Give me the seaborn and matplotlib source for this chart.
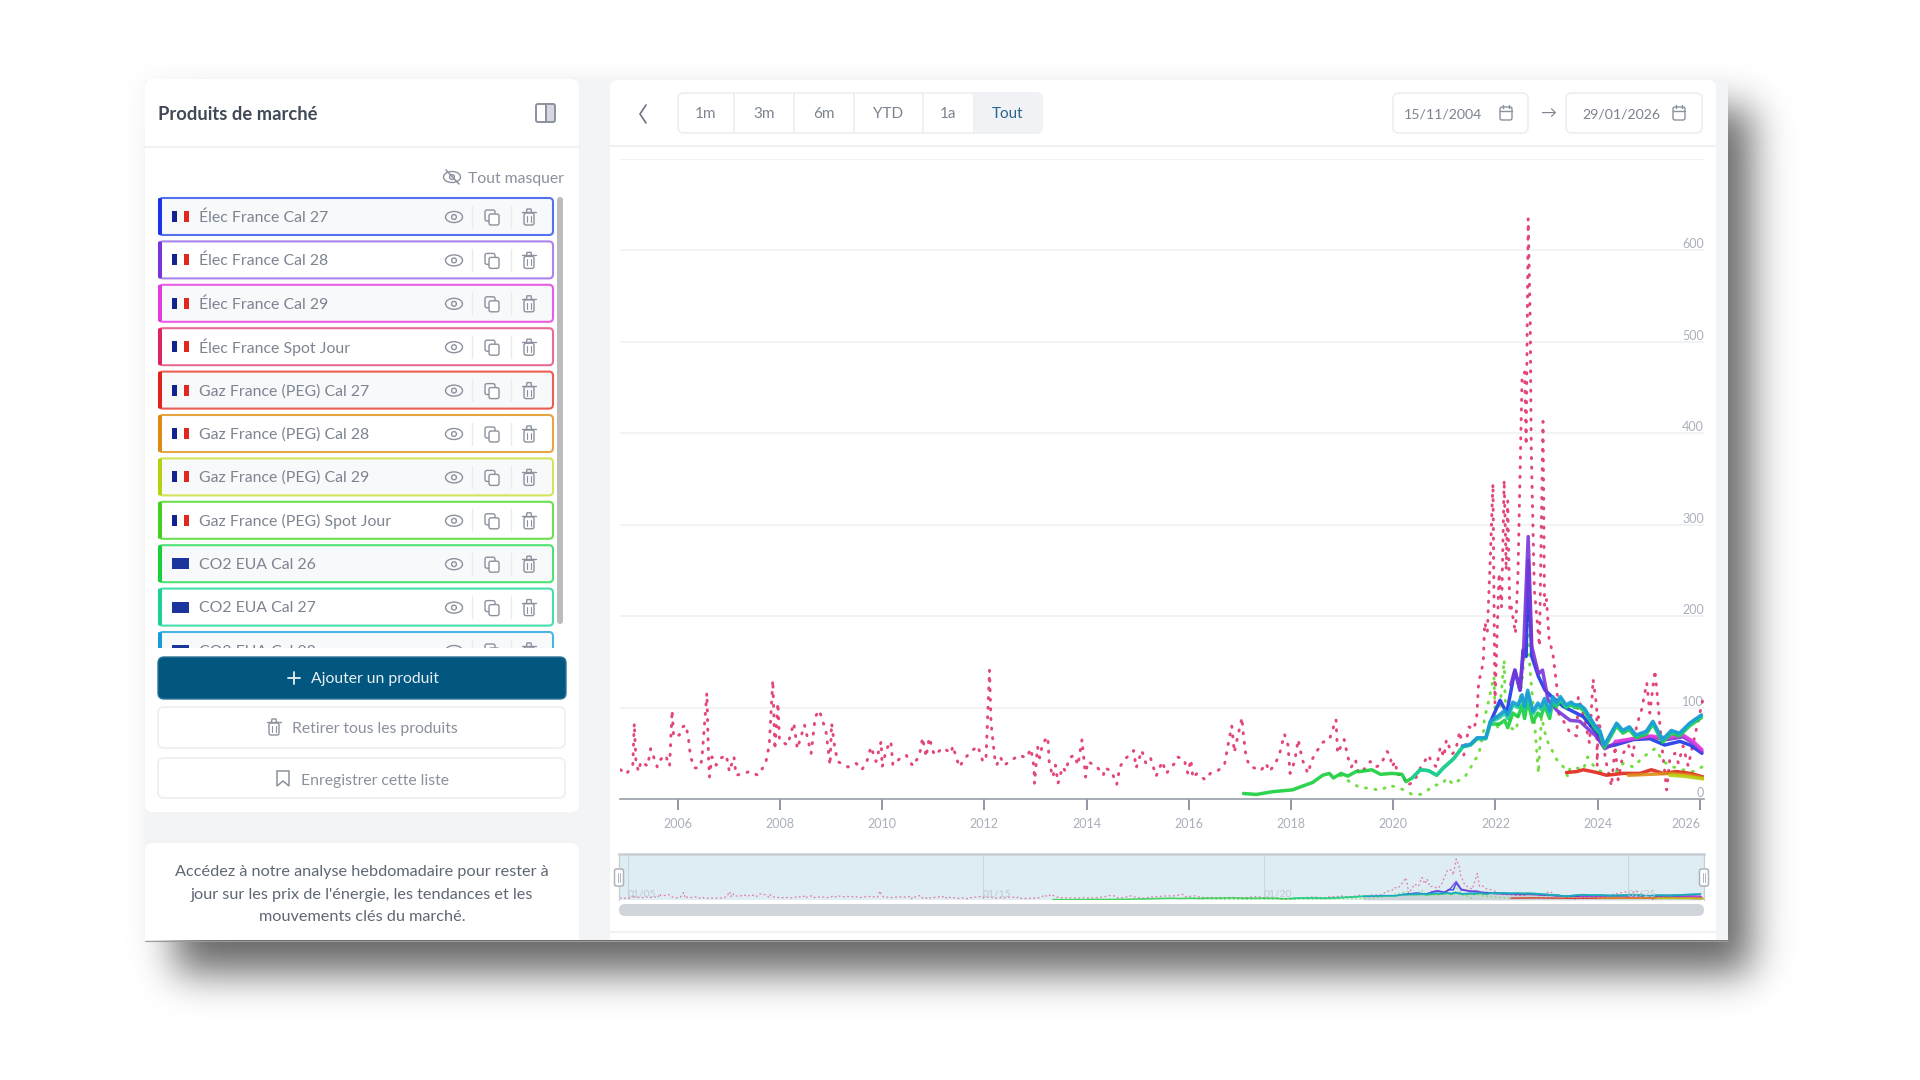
# market products dashboard: price history chart with its side panel
import numpy as np
import pandas as pd
import seaborn as sns
import matplotlib.pyplot as plt
from matplotlib.patches import FancyBboxPatch, Rectangle, Ellipse, Circle, Polygon

# --- data (decimal years, EUR) ---
spot_t = [2004.88, 2004.99, 2005.12, 2005.15, 2005.17, 2005.18, 2005.23, 2005.28, 2005.41, 2005.47, 2005.60, 2005.66,
          2005.76, 2005.84, 2005.89, 2005.92, 2006.03, 2006.10, 2006.16, 2006.21, 2006.25, 2006.33, 2006.41, 2006.47,
          2006.57, 2006.60, 2006.62, 2006.67, 2006.75, 2006.85, 2006.95, 2007.01, 2007.10, 2007.14, 2007.30, 2007.40,
          2007.57, 2007.72, 2007.79, 2007.86, 2007.90, 2007.96, 2007.99, 2008.15, 2008.27, 2008.34, 2008.48, 2008.61,
          2008.69, 2008.77, 2008.90, 2008.98, 2009.01, 2009.07, 2009.13, 2009.33, 2009.49, 2009.60, 2009.69, 2009.78,
          2009.88, 2009.98, 2010.00, 2010.08, 2010.17, 2010.21, 2010.34, 2010.47, 2010.60, 2010.73, 2010.79, 2010.86,
          2010.92, 2011.02, 2011.19, 2011.35, 2011.38, 2011.51, 2011.61, 2011.74, 2011.87, 2011.97, 2012.03, 2012.10,
          2012.13, 2012.20, 2012.24, 2012.31, 2012.39, 2012.52, 2012.68, 2012.82, 2012.91, 2012.97, 2012.98, 2013.04,
          2013.08, 2013.14, 2013.24, 2013.27, 2013.34, 2013.39, 2013.44, 2013.53, 2013.59, 2013.66, 2013.76, 2013.83,
          2013.91, 2013.98, 2014.02, 2014.19, 2014.33, 2014.35, 2014.48, 2014.59, 2014.65, 2014.74, 2014.92, 2014.97,
          2015.08, 2015.16, 2015.25, 2015.36, 2015.48, 2015.56, 2015.72, 2015.78, 2015.91, 2015.98, 2016.04, 2016.08,
          2016.16, 2016.32, 2016.42, 2016.57, 2016.70, 2016.76, 2016.84, 2016.89, 2016.94, 2017.04, 2017.06, 2017.12,
          2017.19, 2017.32, 2017.41, 2017.51, 2017.58, 2017.71, 2017.77, 2017.87, 2017.94, 2017.98, 2018.07, 2018.14,
          2018.22, 2018.33, 2018.41, 2018.49, 2018.62, 2018.75, 2018.88, 2018.91, 2019.04, 2019.11, 2019.18, 2019.26,
          2019.32, 2019.42, 2019.55, 2019.65, 2019.75, 2019.88, 2019.94, 2019.97, 2020.04, 2020.08, 2020.17, 2020.27,
          2020.41, 2020.53, 2020.69, 2020.76, 2020.85, 2020.92, 2020.99, 2021.04, 2021.15, 2021.22, 2021.30, 2021.38,
          2021.48, 2021.57, 2021.63, 2021.67, 2021.76, 2021.79, 2021.84, 2021.90, 2021.95, 2021.99, 2022.07, 2022.12,
          2022.17, 2022.21, 2022.24, 2022.28, 2022.31, 2022.39, 2022.44, 2022.52, 2022.57, 2022.60, 2022.64, 2022.68,
          2022.70, 2022.76, 2022.86, 2022.93, 2022.96, 2023.00, 2023.05, 2023.07, 2023.13, 2023.20, 2023.23, 2023.39,
          2023.46, 2023.59, 2023.62, 2023.75, 2023.84, 2023.91, 2023.98, 2023.99, 2024.01, 2024.17, 2024.27, 2024.34,
          2024.40, 2024.50, 2024.60, 2024.69, 2024.76, 2024.86, 2024.96, 2025.02, 2025.12, 2025.19, 2025.25, 2025.35,
          2025.41, 2025.51, 2025.58, 2025.67, 2025.77, 2025.87, 2026.00, 2026.07]
spot_v = [32, 27, 37, 83, 57, 43, 30, 41, 36, 55, 35, 43,
          48, 36, 97, 68, 70, 79, 81, 66, 46, 34, 34, 42,
          116, 50, 24, 46, 37, 45, 48, 30, 46, 26, 28, 30,
          26, 39, 59, 130, 54, 105, 64, 59, 83, 55, 81, 50,
          90, 97, 74, 37, 83, 57, 41, 35, 39, 32, 39, 57,
          41, 63, 35, 54, 63, 37, 44, 48, 36, 48, 67, 46,
          67, 48, 56, 50, 58, 35, 44, 52, 58, 41, 43, 141,
          83, 46, 37, 46, 37, 42, 48, 45, 55, 35, 17, 57,
          45, 61, 68, 39, 24, 37, 17, 35, 30, 45, 48, 37,
          65, 24, 41, 36, 26, 34, 31, 16, 35, 43, 53, 34,
          53, 39, 45, 25, 41, 28, 39, 46, 43, 28, 43, 23,
          28, 21, 28, 31, 38, 57, 80, 51, 64, 89, 74, 46,
          36, 33, 31, 39, 30, 41, 48, 71, 59, 28, 41, 65,
          43, 28, 43, 51, 62, 65, 87, 50, 65, 46, 35, 43,
          28, 32, 41, 35, 37, 52, 48, 35, 41, 26, 28, 15,
          19, 34, 48, 39, 35, 57, 46, 65, 49, 53, 74, 48,
          79, 76, 87, 127, 149, 193, 182, 265, 345, 105, 247, 210,
          349, 250, 326, 205, 210, 181, 247, 460, 467, 387, 635, 520,
          383, 229, 167, 413, 210, 218, 174, 171, 156, 123, 94, 80,
          72, 69, 112, 85, 61, 131, 101, 36, 90, 39, 14, 58,
          21, 50, 59, 47, 80, 98, 127, 94, 141, 98, 61, 10,
          43, 50, 39, 58, 36, 61, 94, 112]

gas_spot_t = [2018.96, 2019.09, 2019.26, 2019.39, 2019.55, 2019.68, 2019.78, 2019.91, 2020.07, 2020.20, 2020.37, 2020.53,
              2020.66, 2020.79, 2020.95, 2021.05, 2021.17, 2021.30, 2021.41, 2021.51, 2021.60, 2021.67, 2021.77, 2021.78,
              2021.97, 2021.99, 2022.05, 2022.17, 2022.19, 2022.32, 2022.41, 2022.51, 2022.64, 2022.67, 2022.74, 2022.84,
              2022.90, 2023.00, 2023.20, 2023.33, 2023.42, 2023.46, 2023.59, 2023.72, 2023.80, 2023.91, 2024.11, 2024.31,
              2024.50, 2024.70, 2024.89, 2025.12, 2025.28, 2025.48, 2025.67, 2025.87, 2026.04, 2026.07]
gas_spot_v = [26, 21, 15, 12, 12, 10, 10, 15, 13, 10, 5, 5,
              9, 15, 16, 23, 16, 21, 25, 34, 43, 48, 75, 86,
              134, 101, 75, 152, 108, 77, 75, 123, 203, 145, 101, 28,
              90, 65, 43, 35, 24, 34, 34, 32, 46, 37, 28, 26,
              39, 35, 46, 55, 41, 35, 32, 30, 35, 39]

co2_t = [2017.07, 2017.32, 2017.64, 2018.03, 2018.22, 2018.42, 2018.62, 2018.75, 2018.83, 2018.98, 2019.11, 2019.27,
         2019.35, 2019.58, 2019.75, 2019.97, 2020.17, 2020.25, 2020.37, 2020.53, 2020.69, 2020.85, 2020.98, 2021.18,
         2021.36, 2021.51, 2021.64, 2021.81, 2021.90, 2022.08, 2022.18, 2022.24, 2022.34, 2022.44, 2022.52, 2022.57,
         2022.63, 2022.73, 2022.83, 2022.89, 2022.96, 2023.06, 2023.12, 2023.19, 2023.27, 2023.38, 2023.48, 2023.55,
         2023.65, 2023.74, 2023.84, 2023.94, 2024.04, 2024.13, 2024.26, 2024.37, 2024.49, 2024.62, 2024.75, 2024.95,
         2025.08, 2025.27, 2025.44, 2025.60, 2025.80, 2026.03]
co2_cal26_v = [6, 5, 8, 10, 14, 18, 26, 28, 23, 28, 25, 30,
               30, 32, 27, 28, 27, 19, 23, 32, 31, 26, 34, 44,
               57, 59, 66, 66, 82, 82, 86, 78, 94, 90, 102, 88,
               108, 84, 94, 90, 102, 88, 108, 101, 108, 100, 103, 100,
               100, 96, 87, 78, 72, 56, 69, 80, 72, 76, 67, 71,
               82, 62, 72, 69, 80, 89]
co2_cal27_t = co2_t[18:]
co2_cal27_v = [23, 32, 31, 26, 34, 44,
               57, 59, 66, 66, 84, 89, 94, 88, 103, 100, 111, 98,
               116, 93, 102, 98, 107, 93, 110, 103, 110, 101, 105, 102,
               102, 98, 89, 80, 74, 58, 71, 82, 74, 78, 69, 73,
               84, 64, 74, 71, 82, 91]
co2_cal28_t = co2_t[24:]
co2_cal28_v = [58, 60, 67, 67, 85, 92, 97, 92, 106, 103, 114, 101,
               119, 96, 105, 101, 110, 96, 112, 105, 112, 103, 106, 103,
               103, 99, 90, 81, 75, 59, 72, 83, 75, 79, 70, 74,
               85, 65, 75, 72, 83, 92]

elec27_t = [2021.90, 2022.09, 2022.22, 2022.38, 2022.48, 2022.54, 2022.60, 2022.64, 2022.71, 2022.84, 2022.97, 2023.10,
            2023.33, 2023.72, 2023.98, 2024.14, 2024.34, 2024.70, 2025.02, 2025.31, 2025.61, 2025.81, 2026.04]
elec27_v = [84, 108, 94, 141, 119, 163, 156, 261, 156, 134, 119, 112,
            101, 90, 72, 57, 59, 65, 66, 59, 63, 59, 50]
elec28_t = [2022.30, 2022.38, 2022.48, 2022.55, 2022.64, 2022.71, 2022.84, 2022.92, 2023.03, 2023.20, 2023.46, 2023.65,
            2023.98, 2024.14, 2024.34, 2024.70, 2025.02, 2025.35, 2025.67, 2025.87, 2026.04]
elec28_v = [125, 141, 119, 163, 287, 167, 137, 141, 108, 97, 86, 85,
            68, 55, 61, 66, 68, 65, 68, 61, 52]
elec29_t = [2024.34, 2024.70, 2025.02, 2025.35, 2025.67, 2025.87, 2026.04]
elec29_v = [63, 66, 69, 67, 70, 63, 54]

gas27_t = [2023.39, 2023.59, 2023.72, 2023.98, 2024.17, 2024.50, 2024.83, 2025.05, 2025.28, 2025.54, 2025.81, 2026.07]
gas27_v = [29, 30, 32, 29, 26, 28, 28, 32, 28, 30, 28, 24]
gas28_t = [2024.60, 2025.02, 2025.41, 2025.81, 2026.07]
gas28_v = [26, 27, 28, 26, 23]
gas29_t = [2025.41, 2025.67, 2026.07]
gas29_v = [26, 25, 22]

year_ticks = [2006, 2008, 2010, 2012, 2014, 2016, 2018, 2020, 2022, 2024, 2026]
price_ticks = [0, 100, 200, 300, 400, 500, 600, 700]
nav_ticks = [2005, 2015, 2020, 2025]
nav_tick_labels = ['01/05', '01/15', '01/20', '01/25']
# the overview strip is not linear in time
nav_anchor_t = [2004.87, 2005, 2015, 2017.07, 2020, 2025, 2026.08]
nav_anchor_pos = [619, 628, 983, 1053, 1264, 1628, 1704]

products = ['Élec France Cal 27', 'Élec France Cal 28', 'Élec France Cal 29', 'Élec France Spot Jour',
            'Gaz France (PEG) Cal 27', 'Gaz France (PEG) Cal 28', 'Gaz France (PEG) Cal 29',
            'Gaz France (PEG) Spot Jour', 'CO2 EUA Cal 26', 'CO2 EUA Cal 27', 'CO2 EUA Cal 28']
row_colors = ['#1a36e8', '#7a35d8', '#e23de0', '#de2560', '#e0241a', '#dd8a16', '#b8d010',
              '#45d020', '#18cf3c', '#1fcf9a', '#1a9cd8']
row_borders = ['#5570f0', '#ab85ee', '#e95de4', '#ea6c92', '#ea5f52', '#e5a542', '#d3e35c',
               '#6bdf4e', '#4fe274', '#45dfae', '#4cb4e2']
periods = ['1m', '3m', '6m', 'YTD', '1a', 'Tout']
period_edges = [678, 734, 794, 854, 923, 974, 1042]

sns.set_theme(style='white')
plt.rcParams['font.family'] = ['Lato', 'DejaVu Sans']

TXT = '#7d8491'
ICON = '#8b919d'
TICK = '#a9afbb'

fig = plt.figure(figsize=(19.2, 10.8), dpi=100, facecolor='white')
ui = fig.add_axes([0, 0, 1, 1], zorder=1)


def box(x0, y0, x1, y1, fc='white', ec='none', lw=1, r=6, z=2, ax=None):
    p = FancyBboxPatch((x0, y0), x1 - x0, y1 - y0, boxstyle='round,pad=0,rounding_size={}'.format(r),
                       fc=fc, ec=ec, lw=lw, zorder=z)
    (ax or ui).add_patch(p)
    return p


def rect(x0, y0, x1, y1, fc, z=2):
    ui.add_patch(Rectangle((x0, y0), x1 - x0, y1 - y0, fc=fc, ec='none', zorder=z))


def label(x, y, s, size=11, color=TXT, ha='center', weight='normal', z=6):
    ui.text(x, y + 1.5, s, fontsize=size, color=color, ha=ha, va='center', fontweight=weight, zorder=z)


def eye(x, y, z=5):
    ui.add_patch(Ellipse((x, y), 17, 11, fc='none', ec=ICON, lw=1, zorder=z))
    ui.add_patch(Circle((x, y), 2.4, fc='none', ec=ICON, lw=1, zorder=z))


def copy_icon(x, y, z=5):
    box(x - 7, y - 7, x + 3, y + 4, fc='none', ec=ICON, r=2, z=z)
    box(x - 3, y - 3, x + 7, y + 8, fc='white', ec=ICON, r=2, z=z)


def trash(x, y, z=5):
    box(x - 5, y - 4, x + 5, y + 8, fc='none', ec=ICON, r=2, z=z)
    ui.plot([x - 7, x + 7], [y - 5, y - 5], color=ICON, lw=1, zorder=z)
    ui.plot([x - 2.5, x - 2, x + 2, x + 2.5], [y - 5, y - 8, y - 8, y - 5], color=ICON, lw=1, zorder=z)
    for dx in (-1.8, 1.8):
        ui.plot([x + dx, x + dx], [y - 1, y + 5], color=ICON, lw=0.8, zorder=z)


def calendar(x, y):
    box(x - 6, y - 6, x + 6, y + 7, fc='none', ec=ICON, r=2, z=5)
    ui.plot([x - 6, x + 6], [y - 2, y - 2], color=ICON, lw=1, zorder=5)
    for dx in (-3, 3):
        ui.plot([x + dx, x + dx], [y - 8, y - 5], color=ICON, lw=1, zorder=5)


# drop shadow behind the app window (blurred rectangle)
def blurred_edge(n, lo, hi, sigma):
    kx = np.arange(-3 * sigma, 3 * sigma + 1)
    kernel = np.exp(-kx ** 2 / (2.0 * sigma ** 2))
    step = ((np.arange(n) >= lo) & (np.arange(n) <= hi)).astype(float)
    return np.convolve(step, kernel / kernel.sum(), mode='same')


soft = np.outer(blurred_edge(1080, 108, 972, 20), blurred_edge(1920, 175, 1750, 20)) * 0.6
glow = np.outer(blurred_edge(1080, 78, 950, 14), blurred_edge(1920, 142, 1735, 14)) * 0.05
shadow = np.zeros((1080, 1920, 4))
shadow[..., 3] = np.maximum(soft, glow)
ui.imshow(shadow, extent=(0, 1920, 1080, 0), aspect='auto', zorder=0, interpolation='bilinear')
ui.set_xlim(0, 1920)
ui.set_ylim(1080, 0)
ui.axis('off')

# window and panels, the screenshot cuts them off at the bottom
rect(145, 80, 1728, 940, '#f3f4f6', z=1)
window = Rectangle((145, 80), 1583, 860, transform=ui.transData)
box(145, 79, 579, 812, r=8)
box(145, 843, 579, 960, r=8).set_clip_path(window)
box(610, 80, 1716, 960, r=8).set_clip_path(window)
ui.plot([145, 1728], [940.5, 940.5], color='#9a9a9a', lw=0.8, zorder=3)
ui.plot([145, 579], [147, 147], color='#f0f1f4', lw=1.5, zorder=3)
ui.plot([610, 1716], [146, 146], color='#f0f1f4', lw=1.5, zorder=3)
ui.plot([610, 1716], [932, 932], color='#eef0f3', lw=1.2, zorder=3)

# left panel header
label(158, 113, 'Produits de marché', size=13.2, color='#414957', ha='left', weight='bold')
box(536, 104, 555, 122, fc='none', ec=ICON, lw=1.4, r=2, z=4)
rect(546, 105, 554, 121, '#d5d8de', z=3)
ui.plot([546, 546], [104, 122], color=ICON, lw=1.4, zorder=4)
label(564, 177, 'Tout masquer', size=11.3, color='#8a909c', ha='right')
eye(452, 177)
ui.plot([446, 459], [170, 184], color=ICON, lw=1.1, zorder=5)

# product rows, the last one is cut by the list bottom
for i, name in enumerate(products):
    yc = 216.5 + 43.4 * i
    y0, y1 = yc - 18.5, yc + 18.5
    bg = '#f8f9fb' if i % 2 == 0 else 'white'
    box(159, y0, 553, y1, fc=bg, ec=row_borders[i], lw=1.5, r=4, z=3)
    box(158, y0, 162, y1, fc=row_colors[i], r=1.5, z=4)
    if name.startswith('CO2'):
        rect(172, yc - 5.5, 189, yc + 5.5, '#1c359c', z=5)
    else:
        rect(172, yc - 5.5, 177, yc + 5.5, '#12238f', z=5)
        rect(184, yc - 5.5, 189, yc + 5.5, '#e0281e', z=5)
    label(199, yc - 0.5, name, size=11.4, ha='left', z=5)
    eye(454, yc + 0.5)
    copy_icon(492, yc + 0.5)
    trash(529, yc + 0.5)
    ui.plot([472, 472], [yc - 11, yc + 11], color='#e9ebef', lw=1, zorder=5)
    ui.plot([511, 511], [yc - 11, yc + 11], color='#e9ebef', lw=1, zorder=5)
rect(150, 648, 575, 705, 'white', z=7)
box(557, 197, 563, 624, fc='#bcbcbc', r=3, z=5)

# action buttons
box(158, 657, 566, 699, fc='#01577f', ec='#2d7596', r=6, z=8)
label(375, 677.5, 'Ajouter un produit', size=11.3, color='#e9f0f4', z=9)
ui.plot([288, 300], [678, 678], color='#e9f0f4', lw=1.3, zorder=9)
ui.plot([294, 294], [672, 684], color='#e9f0f4', lw=1.3, zorder=9)
box(158, 707, 565, 748, ec='#eceef1', lw=1.2, r=6, z=8)
label(375, 728, 'Retirer tous les produits', size=11.3, color='#8a909c', z=9)
trash(274, 727, z=9)
box(158, 758, 565, 798, ec='#eceef1', lw=1.2, r=6, z=8)
label(375, 779, 'Enregistrer cette liste', size=11.3, color='#8a909c', z=9)
ui.add_patch(Polygon([(277, 771), (289, 771), (289, 786), (283, 781), (277, 786)], closed=True, fc='none',
                     ec=ICON, lw=1.1, zorder=9))

# note below the panel
label(362, 870.5, 'Accédez à notre analyse hebdomadaire pour rester à', size=11.7, color='#5f6774')
label(362, 893, "jour sur les prix de l'énergie, les tendances et les", size=11.7, color='#5f6774')
label(362, 915.5, 'mouvements clés du marché.', size=11.7, color='#5f6774')

# range selector
ui.plot([646, 640, 646], [105, 114, 123], color='#6d7480', lw=1.2, zorder=5)
box(678, 93, 1042, 133, ec='#eceef1', lw=1.2, r=6, z=3)
box(974, 93, 1042, 133, fc='#f1f2f5', r=6, z=3)
for j, per in enumerate(periods):
    label((period_edges[j] + period_edges[j + 1]) / 2, 113, per, size=11,
          color='#28658a' if per == 'Tout' else TXT)
    if j > 0:
        ui.plot([period_edges[j]] * 2, [93, 133], color='#eceef1', lw=1.2, zorder=4)
box(1393, 93, 1528, 133, ec='#eceef1', lw=1.2, r=6, z=3)
box(1566, 93, 1702, 133, ec='#eceef1', lw=1.2, r=6, z=3)
label(1443, 113, '15/11/2004', size=10.2)
label(1621, 113, '29/01/2026', size=10.2)
calendar(1506, 113)
calendar(1679, 113)
label(1548, 113, '→', size=11.5, color='#7d8491')

# main chart
line_series = [(spot_t, spot_v, '#de2560', 'dot'), (gas_spot_t, gas_spot_v, '#5ad820', 'dot'),
               (elec27_t, elec27_v, row_colors[0], 'solid'), (elec28_t, elec28_v, row_colors[1], 'solid'),
               (elec29_t, elec29_v, row_colors[2], 'solid'), (gas27_t, gas27_v, row_colors[4], 'solid'),
               (gas28_t, gas28_v, row_colors[5], 'solid'), (gas29_t, gas29_v, row_colors[6], 'solid'),
               (co2_t, co2_cal26_v, row_colors[8], 'solid'), (co2_cal27_t, co2_cal27_v, row_colors[9], 'solid'),
               (co2_cal28_t, co2_cal28_v, row_colors[10], 'solid')]

ax = fig.add_axes([620 / 1920, 1 - 799 / 1080, (1704 - 620) / 1920, (799 - 159) / 1080], zorder=3)
ax.patch.set_alpha(0)
for t, v, col, kind in line_series:
    df = pd.DataFrame({'t': t, 'v': v})
    if kind == 'dot':
        sns.lineplot(data=df, x='t', y='v', ax=ax, color=col, lw=2.1, estimator=None, sort=False,
                     linestyle=(0, (0.4, 2.9)), dash_capstyle='round', alpha=0.85)
    else:
        sns.lineplot(data=df, x='t', y='v', ax=ax, color=col, lw=2.5, estimator=None, sort=False, alpha=0.9)
ax.set_xlim(2004.87, 2026.08)
ax.set_ylim(0, 700)
ax.set_xlabel('')
ax.set_ylabel('')
ax.set_xticks(year_ticks)
ax.set_yticks(price_ticks)
ax.set_yticklabels(['' if p == 700 else str(p) for p in price_ticks])
ax.yaxis.tick_right()
ax.tick_params(axis='y', length=0, pad=0, labelsize=9, labelcolor=TICK)
ax.tick_params(axis='x', length=8, width=1.1, color='#737b89', pad=5.5, labelsize=9, labelcolor=TICK, bottom=True)
for tl in ax.get_yticklabels():
    tl.set_ha('right')
    tl.set_va('bottom')
ax.get_xticklabels()[-1].set_ha('right')
ax.grid(axis='y', color='#eff1f4', lw=1.2)
ax.set_axisbelow(True)
for side in ('top', 'left', 'right'):
    ax.spines[side].set_visible(False)
ax.spines['bottom'].set_visible(True)
ax.spines['bottom'].set_color('#98a0ac')
ax.spines['bottom'].set_linewidth(1.2)


# overview strip below the chart
def nav_forward(x):
    return np.interp(x, nav_anchor_t, nav_anchor_pos)


def nav_inverse(x):
    return np.interp(x, nav_anchor_pos, nav_anchor_t)


nav = fig.add_axes([619 / 1920, 1 - 900 / 1080, (1704 - 619) / 1920, 46 / 1080], zorder=3, facecolor='#deedf3')
nav.set_xscale('function', functions=(nav_forward, nav_inverse))
nav.fill_between(co2_cal28_t, co2_cal28_v, color='#b8c2c8', alpha=0.55, lw=0)
for t, v, col, kind in line_series:
    df = pd.DataFrame({'t': t, 'v': v})
    if kind == 'dot':
        sns.lineplot(data=df, x='t', y='v', ax=nav, color=col, lw=0.9, estimator=None, sort=False,
                     linestyle=(0, (1.5, 2)), alpha=0.55)
    else:
        sns.lineplot(data=df, x='t', y='v', ax=nav, color=col, lw=1.1, estimator=None, sort=False, alpha=0.8)
nav.set_xlim(2004.87, 2026.08)
nav.set_ylim(0, 712)
nav.set_xlabel('')
nav.set_ylabel('')
nav.set_xticks([])
nav.set_yticks([])
nav.minorticks_off()
for tk, tl in zip(nav_ticks, nav_tick_labels):
    nav.axvline(tk, color='#cdd7dd', lw=0.8, zorder=0)
    nav.text(tk, 90, tl, fontsize=7.5, color='#bfc8ce', ha='left', va='center')
for side in nav.spines:
    nav.spines[side].set_visible(True)
    nav.spines[side].set_color('#c9ced6')
    nav.spines[side].set_linewidth(0.9)
nav.spines['top'].set_linewidth(1.8)
nav.spines['bottom'].set_visible(False)

# scroll bar and the strip handles, which sit over the strip
box(619, 904, 1704, 916, fc='#d0d4db', r=6, z=3)
top = fig.add_axes([0, 0, 1, 1], zorder=4)
top.set_xlim(0, 1920)
top.set_ylim(1080, 0)
top.axis('off')
for hx in (619, 1704):
    box(hx - 4.5, 869, hx + 4.5, 886, ec='#aeb4bc', lw=1.1, r=2, z=5, ax=top)
    top.plot([hx - 1, hx - 1], [873, 882], color='#aeb4bc', lw=0.7, zorder=6)
    top.plot([hx + 1, hx + 1], [873, 882], color='#aeb4bc', lw=0.7, zorder=6)

plt.savefig('out.png', dpi=100)
